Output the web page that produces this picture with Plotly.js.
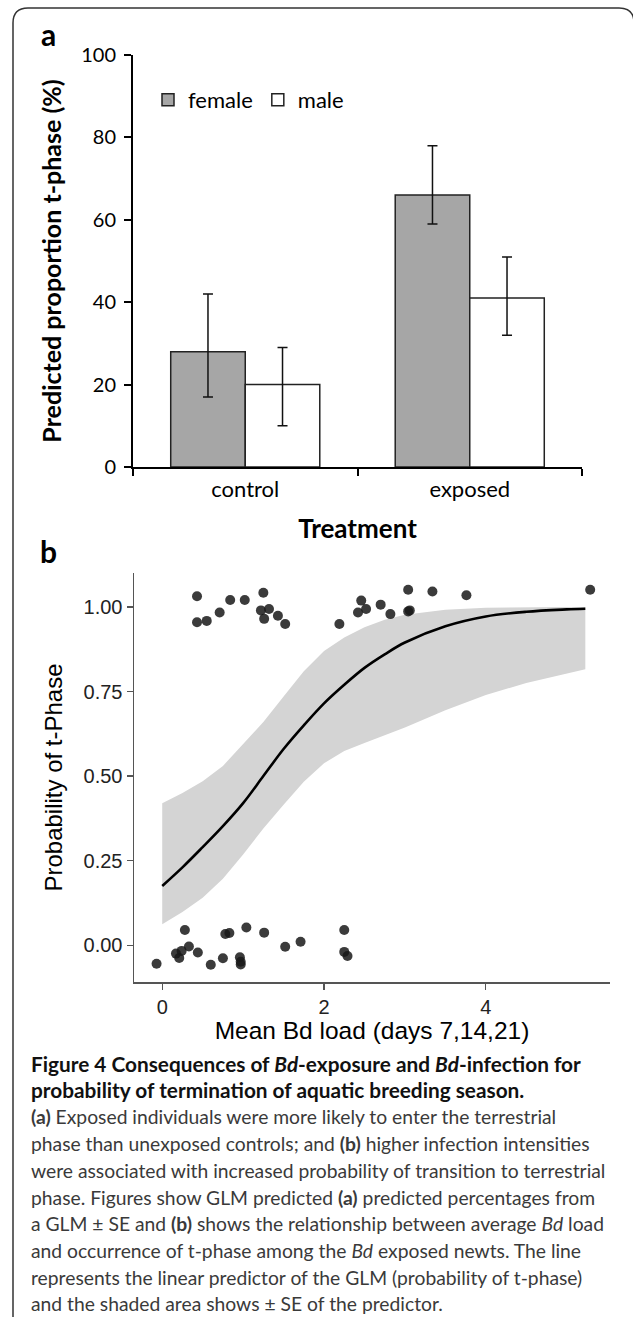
<!DOCTYPE html>
<html>
<head>
<meta charset="utf-8">
<script src="https://cdn.plot.ly/plotly-3.0.1.min.js"></script>
<style>
html,body{margin:0;padding:0;background:#fff;}
#chart{width:633px;height:1317px;}
</style>
</head>
<body>
<div id="chart"></div>
<script>
// ---------- Panel a data ----------
const treatments = ['control', 'exposed'];
const femalePct = [28, 66];
const femaleUpper = [42, 78];
const femaleLower = [17, 59];
const malePct = [20, 41];
const maleUpper = [29, 51];
const maleLower = [10, 32];

// ---------- Panel b data ----------
// newts that entered t-phase (plotted jittered around 1)
const bdLoadTphase = [0.43, 0.43, 0.55, 0.71, 0.84, 1.02, 1.25, 1.22, 1.32, 1.26, 1.43, 1.52,
  2.19, 2.46, 2.42, 2.52, 2.70, 2.82, 3.04, 3.04, 3.06, 3.34, 3.76, 5.29];
const probTphase = [1.032, 0.955, 0.959, 0.984, 1.021, 1.021, 1.042, 0.990, 0.994, 0.965, 0.974, 0.950,
  0.950, 1.019, 0.984, 0.994, 1.007, 0.979, 1.051, 0.987, 0.990, 1.046, 1.035, 1.051];
// newts that stayed aquatic (jittered around 0)
const bdLoadAquatic = [-0.07, 0.17, 0.21, 0.24, 0.28, 0.33, 0.44, 0.60, 0.75, 0.78, 0.83, 0.96, 0.97, 0.97,
  1.04, 1.26, 1.52, 1.71, 2.25, 2.25, 2.29];
const probAquatic = [-0.055, -0.025, -0.038, -0.017, 0.045, -0.004, -0.022, -0.058, -0.039, 0.033, 0.036,
  -0.036, -0.049, -0.057, 0.052, 0.037, -0.005, 0.010, 0.045, -0.020, -0.032];
// GLM predicted probability and +/- SE band
const curveX =    [0,     0.25,  0.5,   0.75,  1.0,   1.25,  1.5,   1.75,  2.0,   2.25,  2.5,   2.75,  3.0,   3.5,   4.0,   4.5,   5.0,   5.23];
const curveY =    [0.175, 0.230, 0.290, 0.352, 0.420, 0.500, 0.580, 0.650, 0.715, 0.770, 0.820, 0.860, 0.895, 0.943, 0.972, 0.986, 0.993, 0.995];
const bandUpper = [0.420, 0.450, 0.485, 0.530, 0.595, 0.660, 0.735, 0.810, 0.870, 0.910, 0.940, 0.962, 0.977, 0.992, 0.998, 1.000, 1.000, 1.000];
const bandLower = [0.062, 0.098, 0.140, 0.196, 0.268, 0.345, 0.415, 0.483, 0.538, 0.574, 0.598, 0.621, 0.644, 0.695, 0.740, 0.775, 0.803, 0.816];

const captionLines = [
  '<b>Figure 4 Consequences of <i>Bd</i>-exposure and <i>Bd</i>-infection for</b>',
  '<b>probability of termination of aquatic breeding season.</b>',
  '<b>(a)</b> Exposed individuals were more likely to enter the terrestrial',
  'phase than unexposed controls; and <b>(b)</b> higher infection intensities',
  'were associated with increased probability of transition to terrestrial',
  'phase. Figures show GLM predicted <b>(a)</b> predicted percentages from',
  'a GLM ± SE and <b>(b)</b> shows the relationship between average <i>Bd</i> load',
  'and occurrence of t-phase among the <i>Bd</i> exposed newts. The line',
  'represents the linear predictor of the GLM (probability of t-phase)',
  'and the shaded area shows ± SE of the predictor.'
];

// ---------- helpers (page pixels -> paper) ----------
const W = 633, H = 1317;
const px = v => v / W;
const py = v => 1 - v / H;

const fontA = 'Lato, "Open Sans", sans-serif';
const fontB = '"Liberation Sans", Arial, sans-serif';

const traces = [
  {
    type: 'bar', name: 'female', x: treatments, y: femalePct,
    xaxis: 'x', yaxis: 'y',
    marker: {color: '#a6a6a6', line: {color: '#222', width: 1.5}},
    error_y: {type: 'data', symmetric: false,
      array: femaleUpper.map((u, i) => u - femalePct[i]),
      arrayminus: femaleLower.map((l, i) => femalePct[i] - l),
      color: '#111', thickness: 1.5, width: 5},
    hoverinfo: 'skip'
  },
  {
    type: 'bar', name: 'male', x: treatments, y: malePct,
    xaxis: 'x', yaxis: 'y',
    marker: {color: '#ffffff', line: {color: '#222', width: 1.5}},
    error_y: {type: 'data', symmetric: false,
      array: maleUpper.map((u, i) => u - malePct[i]),
      arrayminus: maleLower.map((l, i) => malePct[i] - l),
      color: '#111', thickness: 1.5, width: 5},
    hoverinfo: 'skip'
  },
  {
    type: 'scatter', mode: 'lines', x: curveX, y: bandLower,
    xaxis: 'x2', yaxis: 'y2', line: {width: 0, color: 'rgba(0,0,0,0)'},
    showlegend: false, hoverinfo: 'skip'
  },
  {
    type: 'scatter', mode: 'lines', x: curveX, y: bandUpper,
    xaxis: 'x2', yaxis: 'y2', line: {width: 0, color: 'rgba(0,0,0,0)'},
    fill: 'tonexty', fillcolor: '#d4d4d4',
    showlegend: false, hoverinfo: 'skip'
  },
  {
    type: 'scatter', mode: 'lines', x: curveX, y: curveY,
    xaxis: 'x2', yaxis: 'y2', line: {width: 2.6, color: '#000', shape: 'spline'},
    showlegend: false, hoverinfo: 'skip'
  },
  {
    type: 'scatter', mode: 'markers', x: bdLoadTphase, y: probTphase,
    xaxis: 'x2', yaxis: 'y2',
    marker: {size: 10, color: 'rgba(25,25,25,0.85)'},
    showlegend: false, hoverinfo: 'skip'
  },
  {
    type: 'scatter', mode: 'markers', x: bdLoadAquatic, y: probAquatic,
    xaxis: 'x2', yaxis: 'y2',
    marker: {size: 10, color: 'rgba(25,25,25,0.85)'},
    showlegend: false, hoverinfo: 'skip'
  }
];

const annotations = [
  {text: '<b>a</b>', x: px(48), y: py(34), xref: 'paper', yref: 'paper', showarrow: false,
   xanchor: 'center', yanchor: 'middle', font: {family: fontA, size: 30, color: '#000'}},
  {text: '<b>b</b>', x: px(48), y: py(551), xref: 'paper', yref: 'paper', showarrow: false,
   xanchor: 'center', yanchor: 'middle', font: {family: fontA, size: 30, color: '#000'}}
];
const captionY = [1063, 1089, 1116, 1143, 1170, 1197, 1223, 1250, 1277, 1303];
captionLines.forEach((t, i) => {
  annotations.push({
    text: t, x: px(29), y: py(captionY[i]), xref: 'paper', yref: 'paper', showarrow: false,
    xanchor: 'left', yanchor: 'middle', align: 'left',
    font: {family: fontA, size: i < 2 ? 20.8 : 19.3, color: i < 2 ? '#111' : '#3a3a3a'}
  });
});

const r = 15;
const borderPath =
  'M ' + px(13) + ',' + py(H) +
  ' L ' + px(13) + ',' + py(8 + r) +
  ' Q ' + px(13) + ',' + py(8) + ' ' + px(13 + r) + ',' + py(8) +
  ' L ' + px(634 - r) + ',' + py(8) +
  ' Q ' + px(634) + ',' + py(8) + ' ' + px(634) + ',' + py(8 + r) +
  ' L ' + px(634) + ',' + py(H);

const layout = {
  width: W, height: H,
  margin: {l: 0, r: 0, t: 0, b: 0},
  paper_bgcolor: '#fff', plot_bgcolor: 'rgba(0,0,0,0)',
  barmode: 'group', bargap: 0.336, bargroupgap: 0,
  showlegend: true,
  legend: {orientation: 'h', x: px(148), y: py(100), xanchor: 'left', yanchor: 'middle',
    font: {family: fontA, size: 22, color: '#000'}, bgcolor: 'rgba(0,0,0,0)',
    itemwidth: 30, traceorder: 'normal'},
  xaxis: {
    domain: [px(133), px(582)], anchor: 'y', type: 'category',
    showline: true, linecolor: '#000', linewidth: 2,
    ticks: 'outside', tickson: 'boundaries', ticklen: 7, tickwidth: 2, tickcolor: '#000',
    ticklabelstandoff: 2,
    tickfont: {family: fontA, size: 22, color: '#000'},
    showgrid: false, zeroline: false, fixedrange: true,
    title: {text: '<b>Treatment</b>', font: {family: fontA, size: 26, color: '#000'}, standoff: 18}
  },
  yaxis: {
    domain: [py(467), py(55)], anchor: 'x', range: [0, 100], dtick: 20,
    showline: true, linecolor: '#000', linewidth: 2,
    ticks: 'outside', ticklen: 7, tickwidth: 2, tickcolor: '#000', ticklabelstandoff: 4,
    tickfont: {family: fontA, size: 20, color: '#000'},
    showgrid: false, zeroline: false, fixedrange: true,
    title: {text: '<b>Predicted proportion t-phase (%)</b>', font: {family: fontA, size: 25, color: '#000'}, standoff: 12}
  },
  xaxis2: {
    domain: [px(134), px(610)], anchor: 'y2', range: [-0.349, 5.535],
    tickvals: [0, 2, 4], ticktext: ['0', '2', '4'],
    showline: true, linecolor: '#555', linewidth: 1.5,
    ticks: 'outside', ticklen: 6, tickwidth: 1.2, tickcolor: '#555',
    tickfont: {family: fontB, size: 20, color: '#222'},
    showgrid: false, zeroline: false, fixedrange: true,
    title: {text: 'Mean Bd load (days 7,14,21)', font: {family: fontB, size: 24.5, color: '#000'}, standoff: 0}
  },
  yaxis2: {
    domain: [py(982), py(573)], anchor: 'x2', range: [-0.109, 1.1006],
    tickvals: [0, 0.25, 0.5, 0.75, 1.0], tickformat: '.2f',
    showline: true, linecolor: '#555', linewidth: 1.5,
    ticks: 'outside', ticklen: 6, tickwidth: 1.2, tickcolor: '#555',
    tickfont: {family: fontB, size: 20, color: '#222'},
    showgrid: false, zeroline: false, fixedrange: true,
    title: {text: 'Probability of t-Phase', font: {family: fontB, size: 24, color: '#000'}, standoff: 14}
  },
  shapes: [
    {type: 'path', xref: 'paper', yref: 'paper', path: borderPath,
     line: {color: '#333', width: 1.5}}
  ],
  annotations: annotations
};

Plotly.newPlot('chart', traces, layout, {displayModeBar: false, staticPlot: true});
</script>
</body>
</html>
